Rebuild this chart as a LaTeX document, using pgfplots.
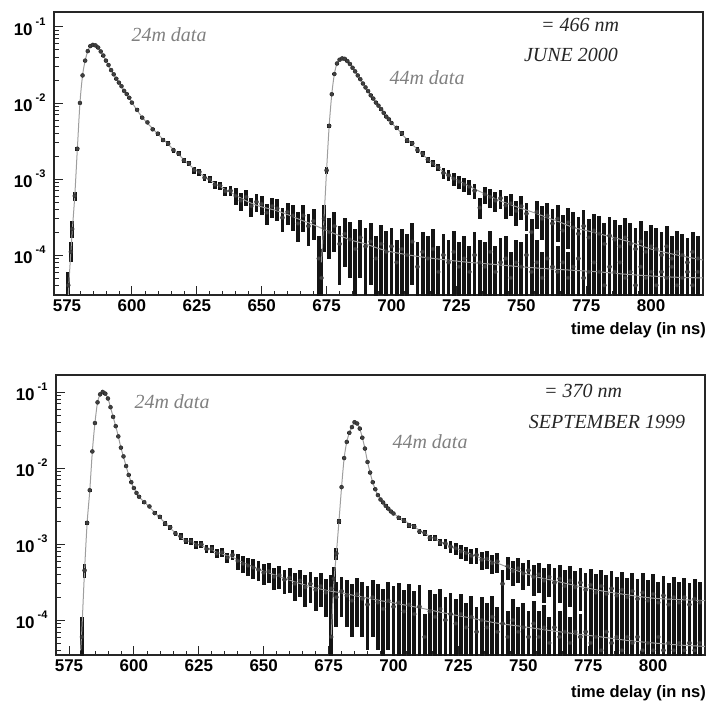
\documentclass[border=0pt]{standalone}
\usepackage{fontspec}
\setmainfont{Liberation Sans}
\newfontfamily\tms{Liberation Serif}
\usepackage{pgfplots}
\pgfplotsset{compat=1.18}
\usepackage{pgfplotstable}

% values in units of 1e-5
\pgfplotstableread{
x y lo hi
575.5 4 1 6
576.5 11 8 15
577 22 17 28
578 60 52 68
579 250 235 265
580 1000 970 1030
581 2300 2250 2350
582 3600 3540 3660
583 4800 4730 4870
584 5600 5520 5680
585 5800 5720 5880
586 5700 5620 5780
587 5350 5270 5430
588 4750 4680 4820
589 4200 4130 4270
590 3600 3540 3660
591 3150 3090 3210
592 2700 2650 2750
593 2380 2330 2430
594 2080 2030 2130
595 1850 1810 1890
596 1660 1620 1700
597 1440 1400 1480
598 1310 1270 1350
599 1170 1130 1210
600 1010 980 1040
602 810 775 845
604 640 610 670
606 555 525 585
608 450 425 475
610 395 370 420
612 325 305 345
614 292 272 312
616 240 222 258
618 215 198 232
620 176 161 191
622 160 146 174
624 131 118 144
626 124 111 137
628 104 93 115
630 99 88 110
632 84 74 94
634 82 72 92
636 69 60 78
638 70 60 80
640 60 45 75
642 52 38 66
644 58 44 72
646 44 32 56
648 50 37 63
650 47 34 60
652 36 25 47
654 44 31 57
656 41 28 54
658 31 20 42
660 37 25 49
662 33 21 45
664 26 15 37
666 33 20 46
668 24 13 35
670 28 16 40
672 9 1 18
674 23 11 35
676 20 9 31
678 24 11 37
680 14 4 24
682 19 7 31
684 16 5 27
686 12 2 22
688 17 5 29
690 13 3 23
692 15 4 26
694 9 1 18
696 14 3 25
698 11 2 21
700 13 3 23
702 8 1 16
704 12 2 22
706 10 1 19
708 15 4 26
710 7 1 15
712 11 1 20
714 9 1 18
716 12 2 22
718 6 1 13
720 10 1 19
722 8 1 16
724 11 1 21
726 7 1 15
728 9 1 18
730 6 1 13
732 10 1 20
734 8 1 16
736 7 1 15
738 11 1 21
740 6 1 13
742 8 1 17
744 9 1 18
746 5 1 11
748 8 1 16
750 7 1 15
752 10 1 19
754 6 1 13
756 8 1 16
758 5 1 11
760 9 1 18
762 7 1 14
764 6 1 13
766 8 1 17
768 5 1 11
770 7 1 15
772 9 1 18
774 5 1 11
776 6 1 13
778 8 1 16
780 6 1 12
782 4 1 9
784 7 1 15
786 6 1 12
788 8 1 16
790 5 1 11
792 6 1 12
794 4 1 9
796 7 1 14
798 5 1 11
800 6 1 13
802 4 1 9
804 6 1 12
806 5 1 11
808 7 1 14
810 4 1 9
812 5 1 11
814 6 1 13
816 4 1 9
818 6 1 12
}\topA

\pgfplotstableread{
x y lo hi
673 5 1 12
674 30 15 45
675 130 115 145
676 500 475 525
677 1300 1260 1340
678 2400 2340 2460
679 3300 3230 3370
680 3700 3620 3780
681 3850 3770 3930
682 3800 3720 3880
683 3550 3480 3620
684 3250 3180 3320
685 2900 2840 2960
686 2600 2540 2660
687 2300 2250 2350
688 2050 2000 2100
689 1800 1760 1840
690 1600 1560 1640
691 1430 1390 1470
692 1260 1220 1300
693 1140 1100 1180
694 1010 975 1045
695 920 885 955
696 830 795 865
697 740 710 770
698 660 630 690
699 610 580 640
700 545 515 575
702 470 440 500
704 400 372 428
706 320 296 344
708 295 272 318
710 240 220 260
712 215 196 234
714 180 163 197
716 160 144 176
718 142 127 157
720 120 100 140
722 112 93 131
724 101 82 120
726 92 74 110
728 85 67 103
730 79 62 96
732 70 54 86
734 42 30 56
736 63 47 79
738 58 42 74
740 52 37 67
742 56 40 72
744 45 30 60
746 48 33 63
748 38 24 52
750 44 29 59
752 35 21 49
754 20 10 30
756 37 22 52
758 30 16 44
760 33 18 48
762 26 12 40
764 30 15 45
766 21 8 34
768 27 12 42
770 23 9 37
772 19 6 32
774 24 9 39
776 17 4 30
778 21 7 35
780 19 5 33
782 14 2 26
784 18 4 32
786 16 3 29
788 13 1 25
790 17 3 31
792 14 2 26
794 12 1 23
796 15 2 28
798 11 1 21
800 13 1 25
802 12 1 23
804 10 1 20
806 13 1 24
808 9 1 18
810 11 1 21
812 10 1 19
814 8 1 17
816 11 1 20
818 9 1 18
}\topB

\pgfplotstableread{
x y
575.5 3
576 6
577 20
578 60
579 250
580 1000
581 2300
582 3600
583 4800
584 5600
585 5800
586 5700
587 5300
588 4750
590 3600
592 2700
594 2080
596 1650
598 1300
600 1020
602 800
604 650
606 540
608 460
610 390
614 285
618 210
622 155
626 120
630 97
634 79
638 67
642 56
646 48
650 43
655 39
660 34
665 29
670 25
675 21
680 18
685 15.5
690 14
695 12.2
700 11
710 9.6
720 8.7
730 8
740 7.5
750 7
760 6.6
770 6.3
780 6
790 5.6
800 5.3
810 5.1
820 5
}\topAfit

\pgfplotstableread{
x y
673 8
674 30
675 130
676 500
677 1300
678 2400
679 3300
680 3700
681 3850
682 3800
683 3550
684 3250
686 2600
688 2050
690 1600
692 1260
694 1010
696 830
698 660
700 545
702 470
704 390
706 330
708 285
710 245
714 182
718 140
722 112
726 94
730 80
735 66
740 55
745 47
750 41
755 36
760 31
765 27
770 23
775 21
780 19
790 15.5
800 12
810 10
820 8.6
}\topBfit

\pgfplotstableread{
x y lo hi
580 6 1 11
581 45 36 54
582 190 178 202
583 510 490 530
584 1650 1610 1690
585 3900 3830 3970
586 7300 7200 7400
587 9300 9200 9400
588 10000 9900 10100
589 9500 9400 9600
590 8200 8100 8300
591 6300 6220 6380
592 4700 4630 4770
593 3550 3490 3610
594 2600 2550 2650
595 1850 1810 1890
596 1420 1385 1455
597 1060 1030 1090
598 810 785 835
599 650 628 672
600 545 525 565
601 470 452 488
602 418 400 436
604 355 338 372
606 312 296 328
608 255 240 270
610 228 213 243
612 186 173 199
614 166 153 179
616 138 126 150
618 126 114 138
620 110 99 121
622 109 98 120
624 97 86 108
626 99 88 110
628 86 76 96
630 87 76 98
632 75 65 85
634 78 67 89
636 66 56 76
638 72 61 83
640 60 46 74
642 55 41 69
644 52 38 66
646 49 35 63
648 46 33 59
650 42 29 55
652 44 31 57
654 37 25 49
656 39 26 52
658 34 22 46
660 36 23 49
662 30 18 42
664 33 20 46
666 27 15 39
668 30 17 43
670 25 13 37
672 28 15 41
674 23 11 35
676 26 13 39
678 20 8 32
680 24 11 37
682 21 8 34
684 18 6 30
686 22 8 36
688 19 6 32
690 16 4 28
692 20 6 34
694 17 4 30
696 14 2 26
698 18 4 32
700 15 2 28
702 17 3 31
704 13 1 25
706 16 2 30
708 12 1 24
710 15 1 29
712 6 1 12
714 13 1 25
716 11 1 22
718 14 1 26
720 10 1 20
722 12 1 23
724 9 1 19
726 12 1 22
728 8 1 17
730 11 1 21
732 7 1 15
734 10 1 20
736 8 1 17
738 11 1 21
740 7 1 15
742 9 1 18
744 6 1 13
746 10 1 19
748 7 1 15
750 8 1 17
752 6 1 13
754 9 1 18
756 6 1 13
758 8 1 16
760 5 1 11
762 8 1 16
764 6 1 13
766 7 1 15
768 5 1 11
770 7 1 14
772 6 1 12
774 7 1 14
776 5 1 11
778 6 1 13
780 4 1 10
782 7 1 14
784 5 1 11
786 6 1 12
788 4 1 9
790 6 1 12
792 5 1 11
794 6 1 12
796 4 1 9
798 5 1 11
800 4 1 9
802 6 1 12
804 4 1 9
806 5 1 10
808 4 1 9
810 5 1 11
812 4 1 9
814 5 1 10
816 4 1 8
818 5 1 10
}\botA

\pgfplotstableread{
x y lo hi
676 6 1 14
677 35 20 50
678 75 62 88
679 200 185 215
680 560 540 580
681 1350 1320 1380
682 2200 2160 2240
683 2900 2850 2950
684 3450 3400 3500
685 4000 3940 4060
686 3850 3790 3910
687 3300 3250 3350
688 2500 2460 2540
689 1800 1770 1830
690 1200 1175 1225
691 870 850 890
692 650 632 668
693 525 508 542
694 440 425 455
695 385 370 400
696 352 337 367
697 318 304 332
698 292 278 306
699 268 255 281
700 252 239 265
702 222 208 236
704 205 191 219
706 176 163 189
708 170 157 183
710 146 134 158
712 140 128 152
714 120 109 131
716 119 108 130
718 104 93 115
720 102 86 118
722 92 76 108
724 88 72 104
726 80 64 96
728 76 60 92
730 70 54 86
732 72 55 89
734 62 46 78
736 64 47 81
738 56 40 72
740 59 42 76
742 30 8 45
744 51 34 68
746 44 28 60
748 48 31 65
750 41 25 57
752 45 28 62
754 37 21 53
756 40 23 57
758 33 17 49
760 37 20 54
762 31 14 48
764 35 17 53
766 28 11 45
768 33 15 51
770 27 10 44
772 31 13 49
774 25 8 42
776 29 11 47
778 23 6 40
780 28 10 46
782 22 5 39
784 26 8 44
786 21 5 37
788 25 7 43
790 20 4 36
792 24 6 42
794 19 3 35
796 23 5 41
798 18 2 34
800 22 4 40
802 17 2 32
804 21 4 38
806 16 1 31
808 20 3 37
810 17 2 32
812 20 3 36
814 16 1 31
816 19 3 35
818 17 2 32
}\botB

\pgfplotstableread{
x y
579.5 4
580 8
581 45
582 190
583 500
584 1650
585 3900
586 7300
587 9300
588 10000
589 9500
590 8200
591 6300
592 4700
593 3550
594 2600
595 1850
596 1400
597 1060
598 810
599 650
600 545
602 418
604 358
606 305
608 260
610 222
614 162
618 122
622 106
626 95
630 83
634 74
638 67
642 57
646 50
650 44
655 38.5
660 33.5
665 29.5
670 26.5
675 24.3
680 22.8
685 21
690 19.5
695 18
700 16.8
710 14.5
720 12.3
730 10.6
740 9.1
750 8.2
760 7.3
770 6.6
780 6
790 5.4
800 5
810 4.7
820 4.5
}\botAfit

\pgfplotstableread{
x y
676 6
677 30
678 75
679 200
680 560
681 1350
682 2200
683 2900
684 3450
685 4000
686 3850
687 3300
688 2500
689 1800
690 1200
691 870
692 650
693 520
694 440
695 390
696 350
698 292
700 252
704 205
708 168
712 138
716 116
720 100
725 86
730 73
735 63
740 56
745 48
750 42
755 37
760 34
770 28.5
780 24.3
790 21.5
800 19.4
810 18.6
820 18
}\botBfit

\newcommand{\tl}[1]{\fontsize{17}{17}\selectfont\bfseries 10\kern3pt\raisebox{0.6em}{\fontsize{11}{11}\selectfont\bfseries #1}}

\pgfplotsset{
  datpts/.style={only marks, mark=*, mark size=2pt, black!85,
    mark options={fill=black!75, draw=black!85},
    error bars/y dir=both, error bars/y explicit,
    error bars/error bar style={line width=3.8pt, black!92},
    error bars/error mark=none},
  fitline/.style={no marks, smooth, line width=1pt, black!38},
}

\begin{document}
\begin{tikzpicture}
\useasboundingbox (0,0) rectangle (708pt,-706pt);

\begin{axis}[ymode=log, scale only axis, width=649pt, height=283pt,
    anchor=south west, at={(54pt,-295pt)},
    xmin=570, xmax=820, ymin=2.98e-5, ymax=0.157,
    xtick={575,600,...,800}, minor x tick num=4,
    ytick={1e-4,1e-3,1e-2,1e-1},
    yticklabels={\tl{-4},\tl{-3},\tl{-2},\tl{-1}},
    minor ytick={3e-5,4e-5,5e-5,6e-5,7e-5,8e-5,9e-5,2e-4,3e-4,4e-4,5e-4,6e-4,7e-4,8e-4,9e-4,2e-3,3e-3,4e-3,5e-3,6e-3,7e-3,8e-3,9e-3,2e-2,3e-2,4e-2,5e-2,6e-2,7e-2,8e-2,9e-2},
    tick align=inside, xtick pos=bottom, ytick pos=left,
    major tick length=9pt, minor tick length=4.5pt,
    axis line style={line width=1.3pt, black!85},
    every tick/.style={black!85, line width=0.8pt},
    every minor tick/.style={black!85, line width=0.6pt},
    xticklabel style={font=\fontsize{17}{17}\selectfont\bfseries, yshift=-1pt},
    yticklabel style={xshift=-5pt},
    /pgf/number format/assume math mode=true]
\addplot[datpts] table[x=x, y expr=\thisrow{y}*1e-5,
  y error plus expr=(\thisrow{hi}-\thisrow{y})*1e-5,
  y error minus expr=(\thisrow{y}-\thisrow{lo})*1e-5] {\topA};
\addplot[datpts] table[x=x, y expr=\thisrow{y}*1e-5,
  y error plus expr=(\thisrow{hi}-\thisrow{y})*1e-5,
  y error minus expr=(\thisrow{y}-\thisrow{lo})*1e-5] {\topB};
\addplot[fitline] table[x=x, y expr=\thisrow{y}*1e-5] {\topAfit};
\addplot[fitline] table[x=x, y expr=\thisrow{y}*1e-5] {\topBfit};
\end{axis}

\begin{axis}[ymode=log, scale only axis, width=649pt, height=280pt,
    anchor=south west, at={(56pt,-655pt)},
    xmin=570, xmax=820, ymin=3.47e-5, ymax=0.167,
    xtick={575,600,...,800}, minor x tick num=4,
    ytick={1e-4,1e-3,1e-2,1e-1},
    yticklabels={\tl{-4},\tl{-3},\tl{-2},\tl{-1}},
    minor ytick={4e-5,5e-5,6e-5,7e-5,8e-5,9e-5,2e-4,3e-4,4e-4,5e-4,6e-4,7e-4,8e-4,9e-4,2e-3,3e-3,4e-3,5e-3,6e-3,7e-3,8e-3,9e-3,2e-2,3e-2,4e-2,5e-2,6e-2,7e-2,8e-2,9e-2},
    tick align=inside, xtick pos=bottom, ytick pos=left,
    major tick length=9pt, minor tick length=4.5pt,
    axis line style={line width=1.3pt, black!85},
    every tick/.style={black!85, line width=0.8pt},
    every minor tick/.style={black!85, line width=0.6pt},
    xticklabel style={font=\fontsize{17}{17}\selectfont\bfseries, yshift=-1pt},
    yticklabel style={xshift=-5pt},
    /pgf/number format/assume math mode=true]
\addplot[datpts] table[x=x, y expr=\thisrow{y}*1e-5,
  y error plus expr=(\thisrow{hi}-\thisrow{y})*1e-5,
  y error minus expr=(\thisrow{y}-\thisrow{lo})*1e-5] {\botA};
\addplot[datpts] table[x=x, y expr=\thisrow{y}*1e-5,
  y error plus expr=(\thisrow{hi}-\thisrow{y})*1e-5,
  y error minus expr=(\thisrow{y}-\thisrow{lo})*1e-5] {\botB};
\addplot[fitline] table[x=x, y expr=\thisrow{y}*1e-5] {\botAfit};
\addplot[fitline] table[x=x, y expr=\thisrow{y}*1e-5] {\botBfit};
\end{axis}

\tikzset{lab/.style={font=\tms\itshape\fontsize{20}{20}\selectfont, text=black!50, inner sep=0pt},
         info/.style={font=\tms\itshape\fontsize{20}{20}\selectfont, text=black!85, inner sep=0pt},
         xl/.style={font=\bfseries\fontsize{16.5}{16.5}\selectfont, anchor=east, inner sep=0pt}}
\node[lab] at (169pt,-35pt) {24m data};
\node[lab] at (427pt,-78pt) {44m data};
\node[info] at (580pt,-25pt) {= 466 nm};
\node[info] at (571pt,-55pt) {JUNE 2000};
\node[xl] at (706pt,-330pt) {time delay (in ns)};

\node[lab] at (172pt,-402pt) {24m data};
\node[lab] at (430pt,-442pt) {44m data};
\node[info] at (583pt,-391pt) {= 370 nm};
\node[info] at (607pt,-422pt) {SEPTEMBER 1999};
\node[xl] at (706pt,-693pt) {time delay (in ns)};
\end{tikzpicture}
\end{document}
